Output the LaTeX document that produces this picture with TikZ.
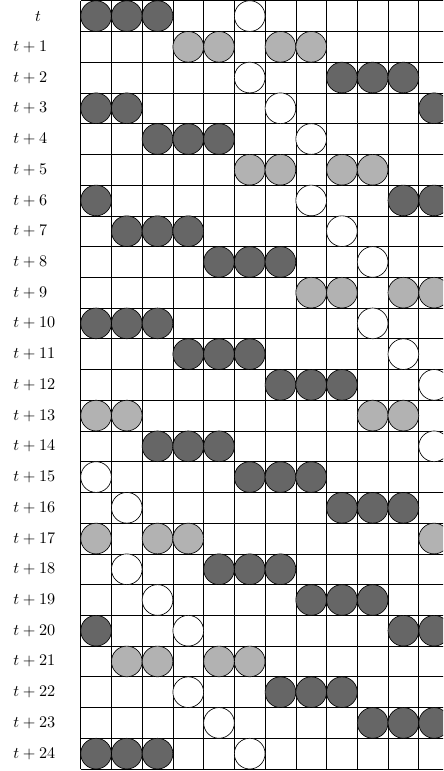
\documentclass[tikz,border=0pt]{standalone}
\usepackage{amsmath}
\usepackage{xcolor}
\usepackage{tikz}

\begin{document}
\begin{tikzpicture}[scale=0.6667,
  dot/.style={circle, draw=black, inner sep=0pt, minimum size=6.667mm},
  full/.style={dot, fill=black!60},
  half/.style={dot, fill=black!30},
  empty/.style={dot, fill=white},
  lbl/.style={anchor=west, inner sep=0pt}
]
  % Visible area (picture is cut on the right)
  \useasboundingbox (-2.626, 0.023) rectangle (11.79, -25.065);
  \clip (-2.626, 0.023) rectangle (11.79, -25.065);

  % Cells
  \draw[black, thin] (0, 0) grid (13, -25);

  % Row labels
  \node[inner sep=0pt] (l0) at (-1.39, -0.5) {$t$};
  \foreach \r in {1,...,24} {
    \node[lbl] (l\r) at (-2.2, -\r-0.5) {$t+\r$};
  }

  % Dark circles
  \foreach \r/\cols in {0/{0,1,2}, 2/{8,9,10}, 3/{0,1,11}, 4/{2,3,4},
      6/{0,10,11}, 7/{1,2,3}, 8/{4,5,6}, 10/{0,1,2}, 11/{3,4,5},
      12/{6,7,8}, 14/{2,3,4}, 15/{5,6,7}, 16/{8,9,10}, 18/{4,5,6},
      19/{7,8,9}, 20/{0,10,11}, 22/{6,7,8}, 23/{9,10,11}, 24/{0,1,2}} {
    \foreach \c in \cols {
      \node[full] (f-\r-\c) at (\c+0.5, -\r-0.5) {};
    }
  }

  % Light circles
  \foreach \r/\cols in {1/{3,4,6,7}, 5/{5,6,8,9}, 9/{7,8,10,11},
      13/{0,1,9,10}, 17/{0,2,3,11}, 21/{1,2,4,5}} {
    \foreach \c in \cols {
      \node[half] (h-\r-\c) at (\c+0.5, -\r-0.5) {};
    }
  }

  % Empty circles
  \foreach \r/\c in {0/5, 2/5, 3/6, 4/7, 6/7, 7/8, 8/9, 10/9, 11/10,
      12/11, 14/11, 15/0, 16/1, 18/1, 19/2, 20/3, 22/3, 23/4, 24/5} {
    \node[empty] (e-\r-\c) at (\c+0.5, -\r-0.5) {};
  }
\end{tikzpicture}
\end{document}
